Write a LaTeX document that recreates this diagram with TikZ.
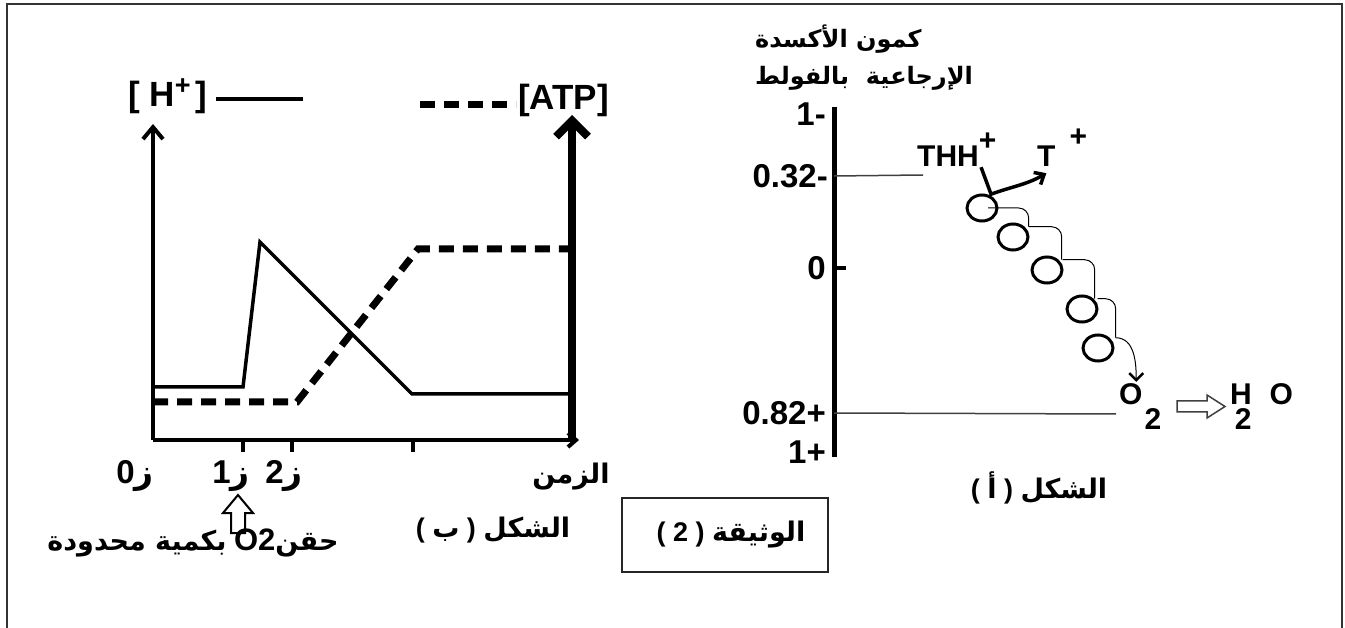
\documentclass[tikz,border=0pt]{standalone}
\usepackage{fontspec}
\setmainfont{Liberation Sans}
\newfontfamily\arabicfont[Script=Arabic]{DejaVu Sans}
\TeXXeTstate=1
\usetikzlibrary{positioning,arrows.meta,calc,shapes.geometric}

\newcommand{\artxt}[1]{{\arabicfont\beginR #1\endR}}

\begin{document}
\begin{tikzpicture}[x=1pt,y=-1pt,
		every node/.style={inner sep=0pt},
		num_label/.style={font=\fontsize{33}{36}\selectfont\bfseries},
		key_label/.style={font=\fontsize{35}{36}\selectfont\bfseries},
		ar_label/.style={font=\fontsize{27}{30}\selectfont\bfseries},
		ar_title/.style={font=\fontsize{24}{28}\selectfont\bfseries},
		frame_line/.style={line width=2.5pt, black!80},
		axis_thin/.style={line width=4pt, black},
		axis_thick/.style={line width=8pt, black},
		h_curve/.style={line width=3.5pt, black},
		atp_curve/.style={line width=7pt, black, dash pattern=on 15pt off 9pt},
		level_line/.style={line width=1.5pt, black!75},
		carrier/.style={ellipse, draw=black, line width=3pt, minimum width=30pt, minimum height=26pt},
		hop_line/.style={line width=1pt, black, rounded corners=10pt},
		hollow_arrow/.style={line width=2pt, black, fill=white, line join=miter},
		]
		\useasboundingbox (0,0) rectangle (1345,628);
		
		% outer frame
		\draw[frame_line] (7,628) -- (7,4) -- (1342,4) -- (1342,628);
		
		% figure (b)
		\coordinate (o) at (153,440);
		\coordinate (y_top) at (153,124);
		\coordinate (x_end) at (579,440);
		\coordinate (r_bot) at (572,442);
		\coordinate (r_top) at (572,115);
		
		\draw[axis_thin, -{Straight Barb[length=12pt,width=20pt]}] (o) -- (y_top);
		\draw[axis_thin, -{Straight Barb[length=8pt,width=14pt]}] (o) -- (x_end);
		\draw[axis_thick, -{Straight Barb[length=16pt,width=32pt]}] (r_bot) -- (r_top);
		\foreach \tx in {243, 292, 413} \draw[axis_thin] (\tx,440) -- (\tx,452);
		
		\coordinate (h0) at (153,387); \coordinate (h1) at (243,387); \coordinate (h2) at (260,242);
		\coordinate (h3) at (412,394); \coordinate (h4) at (572,394);
		\coordinate (a0) at (153,402); \coordinate (a1) at (297,402);
		\coordinate (a2) at (418,249); \coordinate (a3) at (572,249);
		\draw[h_curve] (h0) -- (h1) -- (h2) -- (h3) -- (h4);
		\draw[atp_curve] (a0) -- (a1) -- (a2) -- (a3);
		
		\node[key_label, anchor=west] (h_key) at (128,96) {[ H\rlap{\raisebox{12pt}{\fontsize{27}{27}\selectfont +}}\hspace{21pt}]};
		\draw[h_curve] ([xshift=8pt,yshift=-3pt]h_key.east) -- (303,99);
		\node[key_label, anchor=west] (atp_key) at (518,100) {[ATP]};
		\draw[atp_curve] ([xshift=-98pt,yshift=-5pt]atp_key.west) -- ([xshift=-2pt,yshift=-5pt]atp_key.west);
		
		\node[num_label] (z0) at (135,476) {0\artxt{ز}};
		\node[num_label] (z1) at (231,476) {1\artxt{ز}};
		\node[num_label] (z2) at (284,476) {2\artxt{ز}};
		\node[ar_label] (time_lbl) at (571,477) {\artxt{الزمن}};
		
		\draw[hollow_arrow] (238,495) -- (253,513) -- (245,513) -- (245,533) -- (231,533) -- (231,513) -- (223,513) -- cycle;
		\node[ar_label] (inj_lbl) at (193,543) {\artxt{بكمية محدودة} {\fontsize{31}{32}\selectfont O2}\artxt{حقن}};
		
		\node[ar_label] (cap_b) at (493,530) {( \artxt{ب} ) \artxt{الشكل}};
		\node[draw=black!85, line width=1.5pt, minimum width=206pt, minimum height=74pt] (doc_box) at (725,535) {};
		\node[ar_label] (doc_lbl) at (731,535) {( 2 ) \artxt{الوثيقة}};
		
		% figure (a)
		\coordinate (v_top) at (834,107);
		\coordinate (v_bot) at (834,457);
		\draw[line width=5pt] (v_top) -- (v_bot);
		
		\node[ar_title, anchor=west] (pot_l1) at (755,39) {\artxt{كمون الأكسدة}};
		\node[ar_title, anchor=west] (pot_l2) at (755,78) {\artxt{الإرجاعية\ \ بالفولط}};
		
		\node[num_label, anchor=east] (v_m1) at (826,114) {1-};
		\node[num_label, anchor=east] (v_032) at (828,176) {0.32-};
		\node[num_label, anchor=east] (v_0) at (826,268) {0};
		\node[num_label, anchor=east] (v_082) at (826,413) {0.82+};
		\node[num_label, anchor=east] (v_p1) at (826,452) {1+};
		\draw[axis_thin] (v_0 -| v_top) -- ++(12,0);
		
		\coordinate (l032_end) at (923,175);
		\coordinate (l082_end) at (1116,414);
		\draw[level_line] (v_032 -| v_top) -- (l032_end);
		\draw[level_line] (v_082 -| v_top) -- (l082_end);
		
		\node[num_label, anchor=base west, font=\fontsize{30}{30}\selectfont\bfseries] (thh) at (917,167) {THH\rlap{\raisebox{16pt}{+}}};
		\node[num_label, anchor=base west, font=\fontsize{30}{30}\selectfont\bfseries] (t_ion) at (1037,167) {T\rlap{\kern14pt\raisebox{20pt}{+}}};
		\draw[line width=3.5pt, -{Straight Barb[length=8pt,width=14pt]}] ([xshift=2pt]thh.south east) -- ++(10,27) to[out=20,in=210] ([yshift=-6pt]t_ion.south);
		
		\node[carrier] (c1) at (982,208) {};
		\node[carrier] (c2) at (1013,237) {};
		\node[carrier] (c3) at (1047,270) {};
		\node[carrier] (c4) at (1082,309) {};
		\node[carrier] (c5) at (1098,348) {};
		\draw[hop_line] ([xshift=6pt]c1.center) -| ([xshift=4pt]c2.north east);
		\foreach \a/\b/\dx in {c2/c3/3, c3/c4/1, c4/c5/6}
			\draw[hop_line] ([xshift=4pt]\a.north east) -| ([xshift=\dx pt]\b.north east);
		
		\node[num_label, anchor=base west, font=\fontsize{30}{30}\selectfont\bfseries] (o2) at (1119,405) {O\kern2pt\raisebox{-25pt}{2}};
		\draw[hop_line, -{Straight Barb[length=7pt,width=14pt,line width=2.5pt]}] ([xshift=6pt]c5.north east) to[out=0,in=90] ([xshift=-4pt,yshift=2pt]o2.north);
		
		\draw[level_line, fill=white, line join=miter] (1177,401) -- (1207,401) -- (1207,395) -- (1225,406.5) -- (1207,418) -- (1207,412) -- (1177,412) -- cycle;
		\node[num_label, anchor=base west, font=\fontsize{30}{30}\selectfont\bfseries] (h2o) at (1230,405) {H\kern-17pt\raisebox{-25pt}{2}\kern18pt O};
		
		\node[ar_label] (cap_a) at (1039,488) {( \artxt{أ} ) \artxt{الشكل}};
	\end{tikzpicture}
\end{document}
